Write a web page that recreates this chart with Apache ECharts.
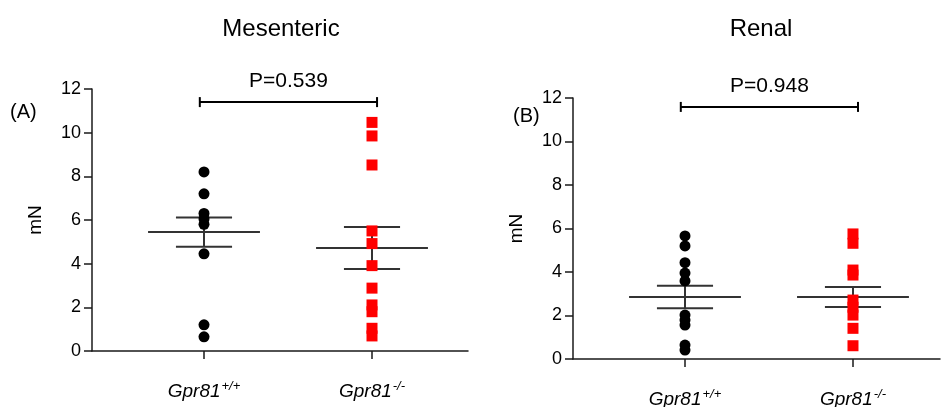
<!DOCTYPE html>
<html>
<head>
<meta charset="utf-8">
<script src="https://cdn.jsdelivr.net/npm/echarts@6/dist/echarts.min.js"></script>
<style>
  html, body { margin: 0; padding: 0; background: #fff; }
  #chart { width: 951px; height: 407px; }
</style>
</head>
<body>
<div id="chart"></div>
<script>
// Contraction force (mN) per genotype, two vascular beds
const groups = ['Gpr81+/+', 'Gpr81-/-'];
const panelTitles = ['Mesenteric', 'Renal'];
const panelTags = ['(A)', '(B)'];
const yTicks = [0, 2, 4, 6, 8, 10, 12];

const mesWT = [8.2, 7.2, 6.3, 6.05, 5.8, 4.45, 1.2, 0.65];
const mesKO = [10.47, 9.85, 8.52, 5.5, 4.92, 3.91, 2.88, 2.11, 1.8, 1.04, 0.69];
const renWT = [5.66, 5.2, 4.43, 3.95, 3.59, 2.02, 1.79, 1.56, 0.64, 0.41];
const renKO = [5.75, 5.32, 4.09, 3.86, 2.71, 2.38, 2.02, 1.41, 0.61];

// mean and SEM per group: [WT, KO]
const mesMean = [5.45, 4.72];
const mesSem = [0.67, 0.96];
const renMean = [2.85, 2.85];
const renSem = [0.52, 0.46];

const pValues = ['P=0.539', 'P=0.948'];
const bracketLevel = [11.4, 11.59];

const FONT = 'Arial, "Liberation Sans", Helvetica, sans-serif';
const AXIS_COLOR = '#1a1a1a';
const BAR_COLOR = '#333333';

function pts(values, gi) {
  return values.map(v => [gi, v]);
}

function errorBarData(means, sems) {
  return means.map((m, i) => [i, m, m - sems[i], m + sems[i]]);
}

function renderErrorBar(params, api) {
  const x = api.value(0);
  const mean = api.value(1);
  const lo = api.value(2);
  const hi = api.value(3);
  const pMeanL = api.coord([x - 0.333, mean]);
  const pMeanR = api.coord([x + 0.333, mean]);
  const pLoL = api.coord([x - 0.167, lo]);
  const pLoR = api.coord([x + 0.167, lo]);
  const pHiL = api.coord([x - 0.167, hi]);
  const pHiR = api.coord([x + 0.167, hi]);
  const pLo = api.coord([x, lo]);
  const pHi = api.coord([x, hi]);
  const style = { stroke: BAR_COLOR, lineWidth: 2 };
  return {
    type: 'group',
    children: [
      { type: 'line', shape: { x1: pMeanL[0], y1: pMeanL[1], x2: pMeanR[0], y2: pMeanR[1] }, style },
      { type: 'line', shape: { x1: pLoL[0], y1: pLoL[1], x2: pLoR[0], y2: pLoR[1] }, style },
      { type: 'line', shape: { x1: pHiL[0], y1: pHiL[1], x2: pHiR[0], y2: pHiR[1] }, style },
      { type: 'line', shape: { x1: pLo[0], y1: pLo[1], x2: pHi[0], y2: pHi[1] }, style }
    ]
  };
}

function bracketSeries(axisIndex, level, text) {
  return {
    type: 'custom',
    xAxisIndex: axisIndex,
    yAxisIndex: axisIndex,
    silent: true,
    z: 5,
    data: [[0, level]],
    renderItem: function (params, api) {
      const y = api.value(1);
      const a = api.coord([-0.025, y]);
      const b = api.coord([1.03, y]);
      const style = { stroke: '#000', lineWidth: 2 };
      return {
        type: 'group',
        children: [
          { type: 'line', shape: { x1: a[0], y1: a[1], x2: b[0], y2: b[1] }, style },
          { type: 'line', shape: { x1: a[0], y1: a[1] - 5, x2: a[0], y2: a[1] + 5 }, style },
          { type: 'line', shape: { x1: b[0], y1: b[1] - 5, x2: b[0], y2: b[1] + 5 }, style },
          {
            type: 'text',
            style: {
              text: text,
              x: (a[0] + b[0]) / 2,
              y: a[1] - 21,
              align: 'center',
              verticalAlign: 'middle',
              fill: '#000',
              fontSize: 21,
              fontFamily: FONT
            }
          }
        ]
      };
    }
  };
}

function xAxisDef(gridIndex, max) {
  return {
    type: 'value',
    gridIndex: gridIndex,
    min: -0.6667,
    max: max,
    splitLine: { show: false },
    axisLine: { show: true, onZero: false, lineStyle: { color: AXIS_COLOR, width: 1.5 } },
    axisTick: { show: true, customValues: [0, 1], length: 8, lineStyle: { color: AXIS_COLOR, width: 1.5 } },
    axisLabel: {
      show: true,
      customValues: [0, 1],
      margin: 29,
      formatter: function (v) {
        const g = groups[Math.round(v)];
        const base = g.slice(0, 5);
        const sup = g.slice(5);
        return '{g|' + base + '}{s|' + sup + '}';
      },
      rich: {
        g: { fontStyle: 'italic', fontSize: 19, fontFamily: FONT, color: '#000', lineHeight: 24 },
        s: { fontStyle: 'italic', fontSize: 13, fontFamily: FONT, color: '#000', verticalAlign: 'top', lineHeight: 24, padding: [0, 0, 11, 1] }
      }
    }
  };
}

function yAxisDef(gridIndex) {
  return {
    type: 'value',
    gridIndex: gridIndex,
    min: yTicks[0],
    max: yTicks[yTicks.length - 1],
    interval: 2,
    name: 'mN',
    nameLocation: 'middle',
    nameGap: 47,
    nameRotate: 90,
    nameTextStyle: { fontSize: 19, fontFamily: FONT, color: '#000' },
    splitLine: { show: false },
    axisLine: { show: true, onZero: false, lineStyle: { color: AXIS_COLOR, width: 1.5 } },
    axisTick: { show: true, inside: false, length: 8, lineStyle: { color: AXIS_COLOR, width: 1.5 } },
    axisLabel: { fontSize: 18, fontFamily: FONT, color: '#000', margin: 11 }
  };
}

function scatter(axisIndex, values, gi, symbol, color) {
  return {
    type: 'scatter',
    xAxisIndex: axisIndex,
    yAxisIndex: axisIndex,
    symbol: symbol,
    symbolSize: 11,
    itemStyle: { color: color, opacity: 1 },
    z: 6,
    data: pts(values, gi)
  };
}

function errorSeries(axisIndex, means, sems) {
  return {
    type: 'custom',
    xAxisIndex: axisIndex,
    yAxisIndex: axisIndex,
    silent: true,
    z: 4,
    data: errorBarData(means, sems),
    renderItem: renderErrorBar
  };
}

const chart = echarts.init(document.getElementById('chart'), null, { renderer: 'canvas' });

chart.setOption({
  backgroundColor: '#fff',
  animation: false,
  title: [
    { text: panelTitles[0], left: 276, top: 12, textAlign: 'center',
      textStyle: { fontSize: 24, fontWeight: 'normal', fontFamily: FONT, color: '#000' } },
    { text: panelTitles[1], left: 756, top: 12, textAlign: 'center',
      textStyle: { fontSize: 24, fontWeight: 'normal', fontFamily: FONT, color: '#000' } },
    { text: panelTags[0], left: 10, top: 102, padding: 0,
      textStyle: { fontSize: 20, fontWeight: 'normal', fontFamily: FONT, color: '#000' } },
    { text: panelTags[1], left: 513, top: 106, padding: 0,
      textStyle: { fontSize: 20, fontWeight: 'normal', fontFamily: FONT, color: '#000' } }
  ],
  grid: [
    { left: 92, top: 89, width: 376, height: 262, outerBoundsMode: 'none', containLabel: false },
    { left: 573, top: 98, width: 367, height: 261, outerBoundsMode: 'none', containLabel: false }
  ],
  xAxis: [xAxisDef(0, 1.5714), xAxisDef(1, 1.518)],
  yAxis: [yAxisDef(0), yAxisDef(1)],
  series: [
    scatter(0, mesWT, 0, 'circle', '#000'),
    scatter(0, mesKO, 1, 'rect', '#ff0000'),
    errorSeries(0, mesMean, mesSem),
    bracketSeries(0, bracketLevel[0], pValues[0]),
    scatter(1, renWT, 0, 'circle', '#000'),
    scatter(1, renKO, 1, 'rect', '#ff0000'),
    errorSeries(1, renMean, renSem),
    bracketSeries(1, bracketLevel[1], pValues[1])
  ]
});
</script>
</body>
</html>
